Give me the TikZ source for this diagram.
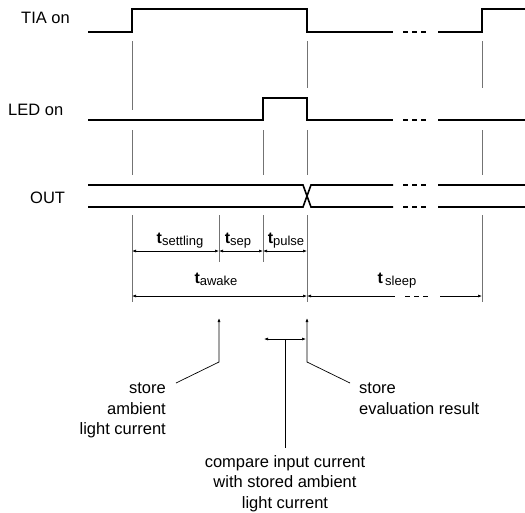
\documentclass[tikz,border=0pt]{standalone}
\usepackage{fontspec}
\setmainfont{Liberation Sans}
\usetikzlibrary{arrows.meta}
\newcommand{\tlab}[1]{{\fontsize{16}{16}\selectfont\bfseries t}\raisebox{-2.5pt}{\fontsize{13}{13}\selectfont #1}}

\begin{document}
\begin{tikzpicture}[x=1pt,y=-1pt,
  sig/.style={line width=1.6pt},
  gap/.style={line width=1.6pt,dash pattern=on 5pt off 4pt},
  guide/.style={black!55,line width=0.7pt},
  dim/.style={line width=0.6pt,{Latex[length=4pt,width=3pt]}-{Latex[length=4pt,width=3pt]}},
  lbl/.style={font=\fontsize{16.5}{20.5}\selectfont,inner sep=0pt}]
\useasboundingbox (0,0) rectangle (525,512);
% signal names
\node[lbl,anchor=base west] (tia) at (21,23) {TIA on};
\node[lbl,anchor=base west] (led) at (8,115) {LED on};
\node[lbl,anchor=base west] (out) at (30,203) {OUT};
% TIA on
\draw[sig] (88,32) -- (132,32) -- (132,9) -- (307,9) -- (307,32) -- (393,32);
\draw[gap] (403,32) -- (426,32);
\draw[sig] (438,32) -- (482,32) -- (482,9) -- (525,9);
% LED on
\draw[sig] (88,120) -- (263,120) -- (263,98) -- (307,98) -- (307,120) -- (393,120);
\draw[gap] (403,120) -- (426,120);
\draw[sig] (438,120) -- (525,120);
% OUT
\draw[sig] (88,185) -- (303,185) -- (311,207) -- (393,207);
\draw[sig] (88,207) -- (303,207) -- (311,185) -- (393,185);
\draw[gap] (403,185) -- (426,185);\draw[gap] (403,207) -- (426,207);
\draw[sig] (438,185) -- (525,185);\draw[sig] (438,207) -- (525,207);
% guides
\draw[guide] (132,41) -- (132,110);\draw[guide] (132,130) -- (132,175);\draw[guide] (132,215) -- (132,302);
\draw[guide] (219,215) -- (219,262);
\draw[guide] (263,130) -- (263,175);\draw[guide] (263,215) -- (263,262);
\draw[guide] (307,41) -- (307,88);\draw[guide] (307,130) -- (307,175);\draw[guide] (307,215) -- (307,302);
\draw[guide] (482,41) -- (482,88);\draw[guide] (482,130) -- (482,175);\draw[guide] (482,215) -- (482,302);
% time intervals
\draw[dim] (132,251) -- (219,251);\draw[dim] (219,251) -- (263,251);\draw[dim] (263,251) -- (307,251);
\draw[dim] (132,296) -- (307,296);
\draw[line width=0.6pt,{Latex[length=4pt,width=3pt]}-] (307,296) -- (395,296);
\draw[line width=0.6pt,dash pattern=on 5pt off 4pt] (405,296) -- (428,296);
\draw[line width=0.6pt,-{Latex[length=4pt,width=3pt]}] (440,296) -- (482,296);
\node[inner sep=0pt,anchor=base] (tset) at (180,243) {\tlab{settling}};
\node[inner sep=0pt,anchor=base] (tsep) at (238,243) {\tlab{sep}};
\node[inner sep=0pt,anchor=base] (tpul) at (286,243) {\tlab{pulse}};
\node[inner sep=0pt,anchor=base] (tawk) at (216,283) {\tlab{awake}};
\node[inner sep=0pt,anchor=base] (tslp) at (397,283) {\tlab{\,sleep}};
% annotations
\node[lbl,anchor=north east,align=right] (amb) at (166,383) {store\\ambient\\light current};
\node[lbl,anchor=north west,align=left] (eval) at (359,383) {store\\evaluation result};
\node[lbl,anchor=north,align=center] (cmp) at (285,455) {compare input current\\with stored ambient\\light current};
\coordinate (ambk) at (219,362);\coordinate (evalk) at (307,362);
\draw[line width=0.7pt,-{Latex[length=4pt,width=3pt]}] (176,383) -- (ambk) -- (219,318);
\draw[line width=0.7pt,-{Latex[length=4pt,width=3pt]}] (350,383) -- (evalk) -- (307,318);
\draw[dim] (264,339) -- (306,339);
\draw[line width=0.7pt,shorten >=7pt] (285,339) -- (cmp.north);
\end{tikzpicture}
\end{document}
